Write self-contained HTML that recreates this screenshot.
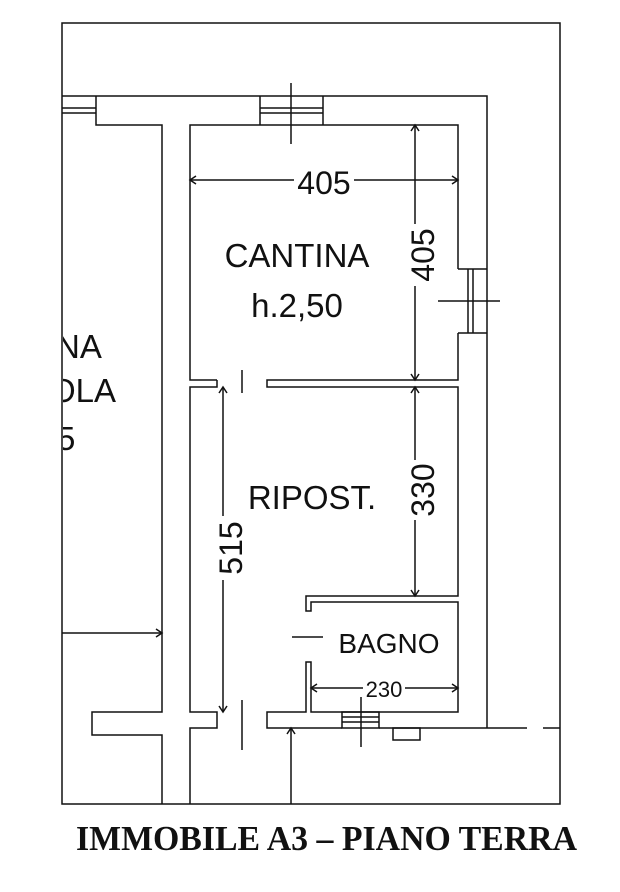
<!DOCTYPE html>
<html><head><meta charset="utf-8"><style>
html,body{margin:0;padding:0;background:#fff;}
svg{display:block;}
text{font-family:"Liberation Sans",sans-serif;fill:#111;}
</style></head><body>
<svg width="620" height="892" viewBox="0 0 620 892" xmlns="http://www.w3.org/2000/svg">
<defs><clipPath id="c"><rect x="63" y="23" width="100" height="781"/></clipPath></defs>
<g stroke="#111" stroke-width="1.5" fill="none">
<rect x="62" y="23" width="498" height="781"/>
<polyline points="62,96 487,96 487,728"/>
<polyline points="96,96 96,125 162,125 162,712 92,712 92,735 162,735 162,804"/>
<line x1="62" y1="108" x2="96" y2="108"/><line x1="62" y1="113" x2="96" y2="113"/>
<line x1="260" y1="96" x2="260" y2="125"/><line x1="323" y1="96" x2="323" y2="125"/>
<line x1="260" y1="108" x2="323" y2="108"/><line x1="260" y1="113" x2="323" y2="113"/>
<line x1="291" y1="83" x2="291" y2="144"/>
<polyline points="217,380 190,380 190,125 458,125 458,269"/>
<polyline points="458,333 458,380 267,380 267,387 458,387 458,596 306,596 306,611 311,611 311,602 458,602 458,712 311,712 311,662 306,662 306,712 267,712 267,728 342,728"/>
<polyline points="217,380 217,387 190,387 190,712 217,712 217,728 190,728 190,804"/>
<line x1="458" y1="269" x2="487" y2="269"/><line x1="458" y1="333" x2="487" y2="333"/>
<line x1="468" y1="269" x2="468" y2="333"/><line x1="473" y1="269" x2="473" y2="333"/>
<line x1="438" y1="301" x2="500" y2="301"/>
<rect x="342" y="712" width="37" height="16"/>
<line x1="342" y1="717" x2="379" y2="717"/><line x1="342" y1="722" x2="379" y2="722"/>
<line x1="361" y1="697" x2="361" y2="747"/>
<line x1="379" y1="728" x2="527" y2="728"/>
<line x1="543" y1="728" x2="560" y2="728"/>
<rect x="393" y="728" width="27" height="12"/>
<line x1="242" y1="370" x2="242" y2="393"/>
<line x1="242" y1="700" x2="242" y2="750"/>
<line x1="292" y1="637" x2="323" y2="637"/>
<line x1="190" y1="180" x2="294" y2="180"/><line x1="354" y1="180" x2="458" y2="180"/>
<polyline points="196,176 190,180 196,184"/><polyline points="452,176 458,180 452,184"/>
<line x1="415" y1="125" x2="415" y2="224"/><line x1="415" y1="286" x2="415" y2="380"/>
<polyline points="411,131 415,125 419,131"/><polyline points="411,374 415,380 419,374"/>
<line x1="415" y1="387" x2="415" y2="460"/><line x1="415" y1="520" x2="415" y2="596"/>
<polyline points="411,393 415,387 419,393"/><polyline points="411,590 415,596 419,590"/>
<line x1="223" y1="387" x2="223" y2="516"/><line x1="223" y1="580" x2="223" y2="712"/>
<polyline points="219,393 223,387 227,393"/><polyline points="219,706 223,712 227,706"/>
<line x1="311" y1="688" x2="363" y2="688"/><line x1="405" y1="688" x2="458" y2="688"/>
<polyline points="317,684 311,688 317,692"/><polyline points="452,684 458,688 452,692"/>
<line x1="62" y1="633" x2="162" y2="633"/><polyline points="156,629 162,633 156,637"/>
<line x1="291" y1="728" x2="291" y2="804"/><polyline points="287,734 291,728 295,734"/>
</g>
<text x="324" y="194" font-size="32" text-anchor="middle">405</text>
<text transform="translate(434,255) rotate(-90)" font-size="32" text-anchor="middle">405</text>
<text transform="translate(434,490) rotate(-90)" font-size="32" text-anchor="middle">330</text>
<text transform="translate(242,548) rotate(-90)" font-size="32" text-anchor="middle">515</text>
<text x="384" y="697" font-size="22" text-anchor="middle">230</text>
<text x="297" y="267" font-size="33" text-anchor="middle">CANTINA</text>
<text x="297" y="317" font-size="33" text-anchor="middle">h.2,50</text>
<text x="312" y="509" font-size="33" text-anchor="middle">RIPOST.</text>
<text x="389" y="653" font-size="28" text-anchor="middle">BAGNO</text>
<g clip-path="url(#c)">
<text x="56" y="358" font-size="33">NA</text>
<text x="50" y="402" font-size="33">OLA</text>
<text x="57" y="450" font-size="33">5</text>
</g>
<text x="76" y="850" font-weight="bold" font-size="35" textLength="501" lengthAdjust="spacingAndGlyphs" style="font-family:'Liberation Serif',serif;">IMMOBILE A3 – PIANO TERRA</text>
</svg>
</body></html>
